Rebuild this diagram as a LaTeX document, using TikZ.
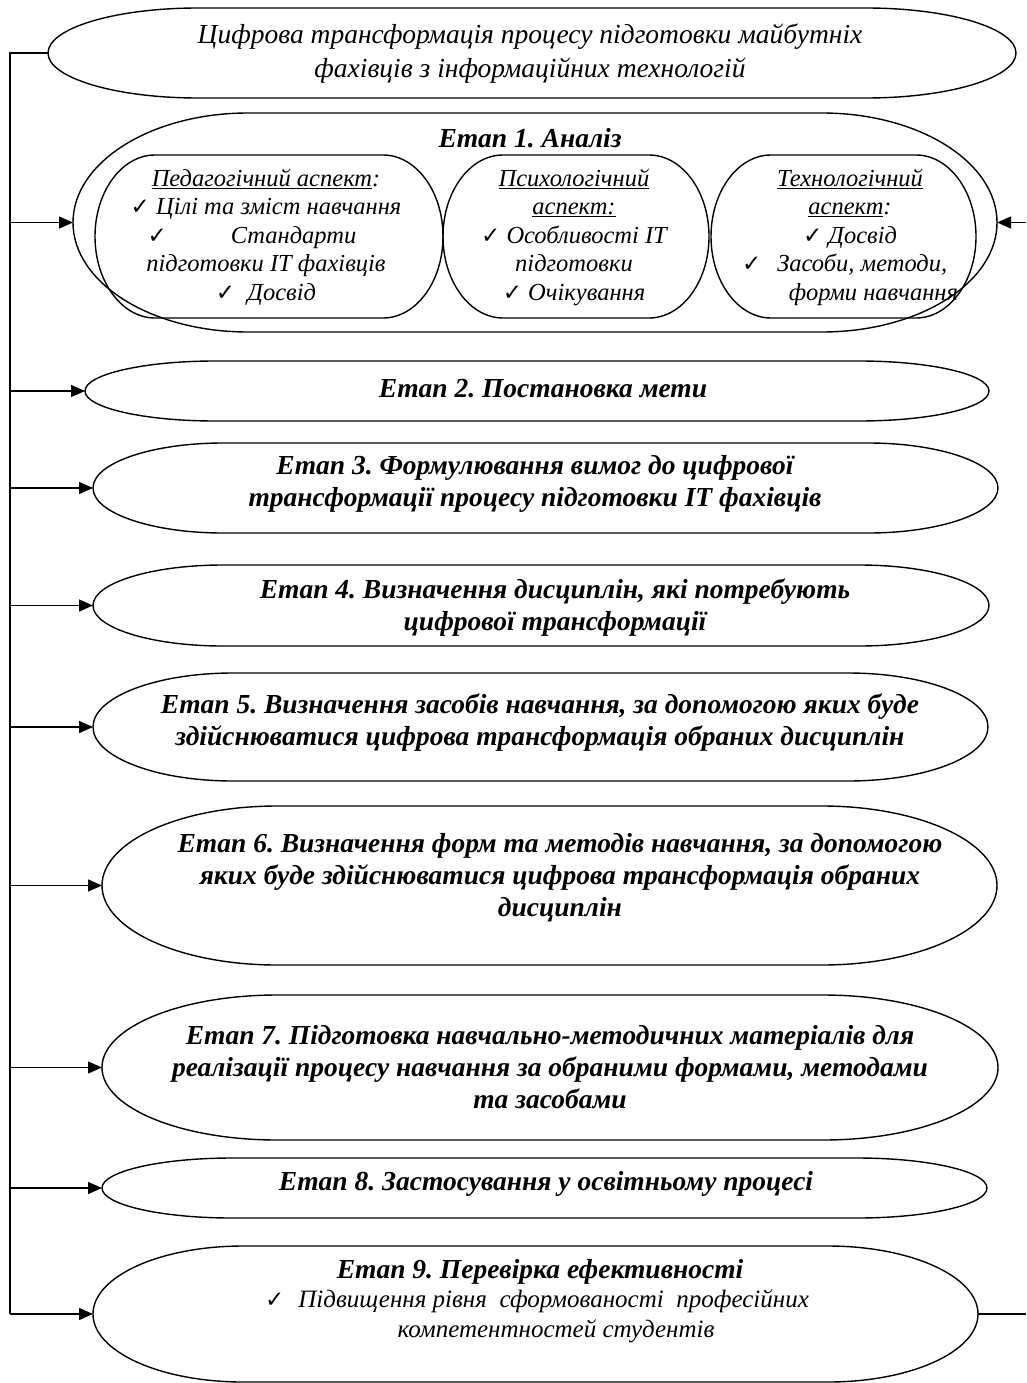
\documentclass[tikz,border=0pt]{standalone}
\usepackage{fontspec}
\setmainfont{Liberation Serif}
\newfontfamily\symf{DejaVu Sans}
\usetikzlibrary{arrows.meta}
\frenchspacing

\newcommand\chk{\hbox{\symf\fontsize{23}{24}\selectfont ✓}}
\newcommand\stadpath[5]{%
 \pgfmathsetmacro\oA{#1+#5}\pgfmathsetmacro\oB{#2-#5}%
 \pgfmathsetmacro\oAk{#1+#5*0.4477}\pgfmathsetmacro\oBk{#2-#5*0.4477}%
 \pgfmathsetmacro\oM{(#3+#4)/2}\pgfmathsetmacro\oK{0.5523*(#4-#3)/2}%
 \pgfmathsetmacro\oMu{\oM-\oK}\pgfmathsetmacro\oMd{\oM+\oK}%
 \draw[shapeline] (\oA,#3) -- (\oB,#3) .. controls (\oBk,#3) and (#2,\oMu) .. (#2,\oM)
   .. controls (#2,\oMd) and (\oBk,#4) .. (\oB,#4) -- (\oA,#4)
   .. controls (\oAk,#4) and (#1,\oMd) .. (#1,\oM)
   .. controls (#1,\oMu) and (\oAk,#3) .. (\oA,#3) -- cycle;}
\newcommand\stage[6]{%
 \pgfmathsetmacro\cxx{(#2+#3)/2}\pgfmathsetmacro\cyy{(#4+#5)/2}%
 \pgfmathsetmacro\www{#3-#2}\pgfmathsetmacro\hhh{#5-#4}%
 \node[stagebox, minimum width=\www pt, minimum height=\hhh pt] (#1) at (\cxx,\cyy) {};%
 \stadpath{#2}{#3}{#4}{#5}{#6}}

\tikzset{
 shapeline/.style={draw=black, line width=1.4pt},
 stagebox/.style={inner sep=0pt, outer sep=0pt, draw=none, rectangle},
 bodytxt/.style={inner sep=0pt, align=center, font=\fontsize{27.5}{32}\selectfont\bfseries\itshape},
 titletxt/.style={inner sep=0pt, align=center, font=\fontsize{27.5}{34}\selectfont\itshape},
 smalltxt/.style={inner sep=0pt, align=center, font=\fontsize{24.5}{28.5}\selectfont\itshape},
 detailtxt/.style={inner sep=0pt, align=center, font=\fontsize{25}{30}\selectfont\itshape},
 arr/.style={line width=1.4pt, -{Triangle[length=14pt,width=12pt]}},
 plainline/.style={line width=1.4pt},
 spineline/.style={line width=2.2pt},
}

\begin{document}
\begin{tikzpicture}[x=1pt,y=-1pt]
\useasboundingbox (0,0) rectangle (1026,1383);

% shapes
\stage{t}{48}{1016}{8}{98}{150}
\stage{s1}{73}{997}{113}{332}{175}
\stage{p1}{95}{443}{155}{318}{60}
\stage{p2}{443}{709}{155}{318}{60}
\stage{p3}{711}{976}{155}{318}{60}
\stage{s2}{85}{989}{361}{421}{130}
\stage{s3}{93}{998}{443}{533}{130}
\stage{s4}{93}{989}{565}{646}{130}
\stage{s5}{93}{988}{673}{781}{140}
\stage{s6}{102}{997}{806}{965}{175}
\stage{s7}{102}{998}{995}{1140}{175}
\stage{s8}{102}{987}{1158}{1218}{130}
\stage{s9}{93}{978}{1246}{1382}{150}

% texts
\node[titletxt] (t-txt) at (530,54) {Цифрова трансформація процесу підготовки майбутніх\\фахівців з інформаційних технологій};
\node[bodytxt] (s1-txt) at (530,138) {Етап 1. Аналіз};
\node[smalltxt] (p1-txt) at (266,237) {\underline{Педагогічний аспект}:\\
 \chk\ Цілі та зміст навчання\\
 \makebox[237pt][l]{\chk\hspace{64pt}Стандарти}\\
 підготовки ІТ фахівців\\
 \chk\ \ Досвід};
\node[smalltxt] (p2-txt) at (574,237) {\underline{Психологічний}\\
 \underline{аспект:}\\
 \chk\ Особливості ІТ\\
 підготовки\\
 \chk\ Очікування};
\node[smalltxt] (p3-txt) at (850,237) {\underline{Технологічний}\\
 \underline{аспект}:\\
 \chk\ Досвід\\
 \makebox[216pt][l]{\chk\hspace{16pt}Засоби, методи,}\\
 \makebox[216pt][r]{форми навчання}};
\node[bodytxt] (s2-txt) at (543,389) {Етап 2. Постановка мети};
\node[bodytxt] (s3-txt) at (535,484) {Етап 3. Формулювання вимог до цифрової\\трансформації процесу підготовки ІТ фахівців};
\node[bodytxt] (s4-txt) at (555,608) {Етап 4. Визначення дисциплін, які потребують\\цифрової трансформації};
\node[bodytxt] (s5-txt) at (540,723) {Етап 5. Визначення засобів навчання, за допомогою яких буде\\здійснюватися цифрова трансформація обраних дисциплін};
\node[bodytxt] (s6-txt) at (560,878) {Етап 6. Визначення форм та методів навчання, за допомогою\\яких буде здійснюватися цифрова трансформація обраних\\дисциплін};
\node[bodytxt] (s7-txt) at (550,1067) {Етап 7. Підготовка навчально-методичних матеріалів для\\реалізації процесу навчання за обраними формами, методами\\та засобами};
\node[bodytxt] (s8-txt) at (546,1184) {Етап 8. Застосування у освітньому процесі};
\node[bodytxt] (s9-txt) at (540,1272) {Етап 9. Перевірка ефективності};
\node[detailtxt] (s9-a) at (537,1301) {\chk\hspace{14pt}Підвищення рівня\ \ сформованості\ \ професійних};
\node[detailtxt] (s9-b) at (556,1331) {компетентностей студентів};

% connectors
\coordinate (spine) at (10,0);
\coordinate (rside) at (1026,0);
\draw[spineline] (t.west) -- (t.west -| spine) -- (s9.west -| spine);
\foreach \s in {s1,s2,s3,s4,s5,s6,s7,s8,s9}
  \draw[arr] (\s.west -| spine) -- (\s.west);
\draw[arr] (s1.east -| rside) -- (s1.east);
\draw[plainline] (s9.east) -- (s9.east -| rside);
\end{tikzpicture}
\end{document}
